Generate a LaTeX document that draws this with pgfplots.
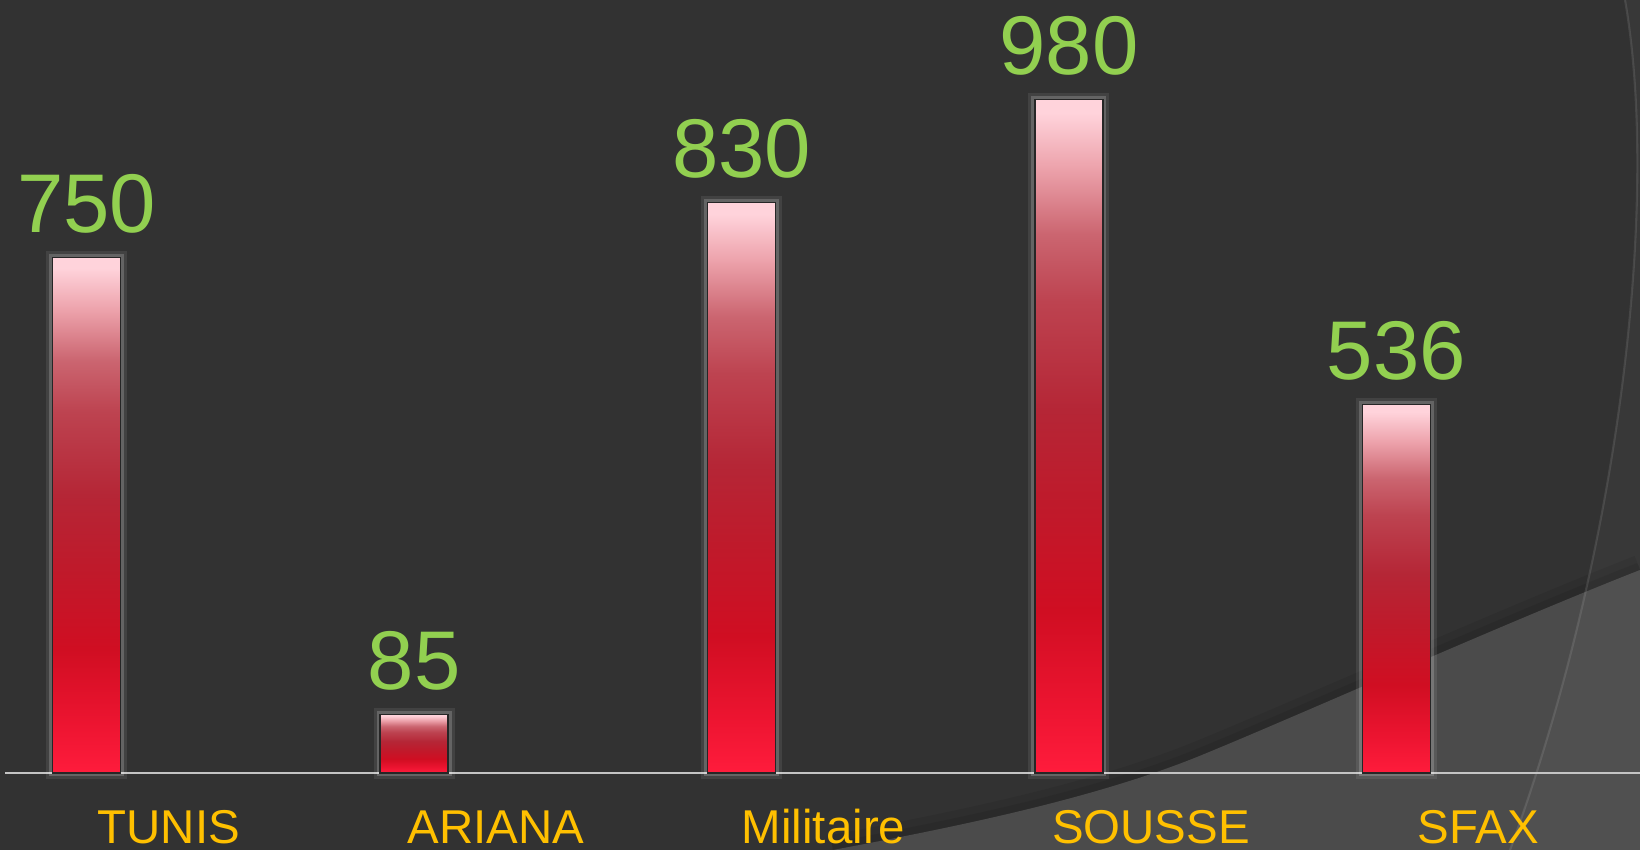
\documentclass[border=0pt]{standalone}
\usepackage{pgfplots}
\pgfplotsset{compat=1.18}
\usepackage{fontspec}
\setmainfont{Liberation Sans}

\definecolor{bgdark}{HTML}{323232}
\definecolor{bglight}{HTML}{4B4B4B}
\definecolor{valgreen}{HTML}{92D050}
\definecolor{catgold}{HTML}{FFC000}
\definecolor{axisgray}{HTML}{C4C4C4}
% bar gradient, bottom to top
\definecolor{bA}{HTML}{FF1C3C}
\definecolor{bB}{HTML}{EC1430}
\definecolor{bC}{HTML}{D00E22}
\definecolor{bD}{HTML}{BF1A2B}
\definecolor{bE}{HTML}{B52636}
\definecolor{bF}{HTML}{BD4350}
\definecolor{bG}{HTML}{CB6570}
\definecolor{bH}{HTML}{EDA3AC}
\definecolor{bI}{HTML}{FFD3DB}
\pgfdeclareverticalshading{barshade}{100bp}{%
  color(0bp)=(bA); color(25bp)=(bA); color(30bp)=(bB); color(37bp)=(bC);
  color(45bp)=(bD); color(52bp)=(bE); color(60bp)=(bF); color(65bp)=(bG);
  color(70bp)=(bH); color(74bp)=(bI); color(100bp)=(bI)}

\pgfplotsset{
  redbar/.style={draw=black!85, line width=0.4pt, shade, shading=barshade,
    bar width=6.8mm, bar shift=-8.2mm,
    preaction={draw=white, opacity=0.08, line width=1.3mm},
    preaction={draw=white, opacity=0.18, line width=0.7mm}},
}

\begin{document}
\begin{tikzpicture}
  % slide background
  \fill[bgdark] (0,0) rectangle (16.4,8.5);
  \def\swoosh{(8.33,0) .. controls (9.5,0.22) and (10.9,0.5) .. (11.97,0.93)
    .. controls (13,1.35) and (15,2.25) .. (16.4,2.8)}
  \draw[black,opacity=0.08,line width=3mm] \swoosh;
  \draw[black,opacity=0.08,line width=1.5mm] \swoosh;
  \fill[bglight] \swoosh -- (16.4,0) -- cycle;
  \fill[white,opacity=0.03] (16.25,8.5) .. controls (16.6,6.5) and (16.2,3) .. (15.1,0)
    -- (16.4,0) -- (16.4,8.5) -- cycle;
  \draw[white,opacity=0.1,line width=0.6pt] (16.25,8.5) .. controls (16.6,6.5) and (16.2,3) .. (15.1,0);

  \begin{axis}[
    at={(0.05cm,0.77cm)}, anchor=south west,
    scale only axis,
    width=16.37cm, height=7.73cm,
    xmin=-0.5, xmax=4.5,
    ymin=0, ymax=1125,
    clip=false,
    axis y line=none,
    axis x line*=bottom,
    x axis line style={-, draw=axisgray, line width=0.6pt},
    major tick style={draw=none},
    xtick={0,1,2,3,4},
    xticklabels={TUNIS,ARIANA,Militaire,SOUSSE,SFAX},
    xticklabel style={anchor=base, yshift=-5.6mm, text=catgold,
      font=\fontsize{13.5}{16}\selectfont},
    ybar,
    /pgf/number format/assume math mode=true,
    nodes near coords,
    every node near coord/.append style={anchor=base, yshift=2.5mm, text=valgreen,
      font=\fontsize{23.7}{28}\selectfont},
  ]
    % one plot per bar so that each bar gets the whole gradient
    \addplot[redbar] coordinates {(0,750)};
    \addplot[redbar] coordinates {(1,85)};
    \addplot[redbar] coordinates {(2,830)};
    \addplot[redbar] coordinates {(3,980)};
    \addplot[redbar] coordinates {(4,536)};
  \end{axis}

  \pgfresetboundingbox
  \useasboundingbox (0,0) rectangle (16.4,8.5);
\end{tikzpicture}
\end{document}
